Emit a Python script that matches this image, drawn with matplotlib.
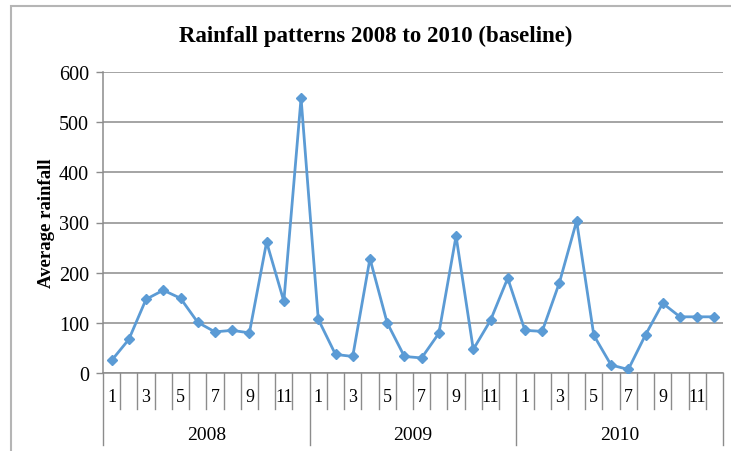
import matplotlib.pyplot as plt
from matplotlib.patches import Rectangle
from matplotlib.transforms import blended_transform_factory

# Monthly average rainfall, Jan 2008 - Dec 2010
years = ['2008', '2009', '2010']
months = list(range(1, 13))
rain_2008 = [25, 67, 147, 165, 149, 101, 82, 85, 80, 261, 143, 548]
rain_2009 = [107, 37, 33, 228, 100, 33, 30, 79, 273, 47, 105, 189]
rain_2010 = [85, 83, 180, 303, 75, 16, 7, 76, 139, 112, 112, 112]
y_ticks = [0, 100, 200, 300, 400, 500, 600]

rainfall = rain_2008 + rain_2009 + rain_2010
n = len(rainfall)
x = list(range(n))

plt.rcParams['font.family'] = 'Liberation Serif'
grid_col = '#8c8c8c'
line_col = '#5b9bd5'

W, H = 731, 452
fig = plt.figure(figsize=(W / 100, H / 100), dpi=100)

# plot area in pixel terms
left, right, top, bottom = 103, 723, 73, 374
ax = fig.add_axes([left / W, (H - bottom) / H, (right - left) / W, (bottom - top) / H])

ax.plot(x, rainfall, color=line_col, linewidth=2.0, marker='D',
        markersize=5, zorder=3)

ax.set_xlim(-0.5, n - 0.5)
ax.set_ylim(0, 600)
ax.set_yticks(y_ticks)
ax.set_yticklabels([str(v) for v in y_ticks], fontsize=14.5)
ax.tick_params(axis='y', length=5, width=1.0, color=grid_col, pad=5)
ax.set_xticks([])
ax.yaxis.grid(True, color=grid_col, linewidth=1.1)
ax.set_axisbelow(True)

for side in ['top', 'right']:
    ax.spines[side].set_visible(False)
for side in ['left', 'bottom']:
    ax.spines[side].set_color(grid_col)
    ax.spines[side].set_linewidth(1.1)

# two-level category axis: month cells and year groups
plot_h = bottom - top
month_drop = -(410 - bottom) / plot_h
year_drop = -(446 - bottom) / plot_h
trans = blended_transform_factory(ax.transData, ax.transAxes)

for i in range(n + 1):
    xb = i - 0.5
    drop = year_drop if i % 12 == 0 else month_drop
    ax.plot([xb, xb], [0, drop], transform=trans, color=grid_col,
            linewidth=1.0, clip_on=False)

for i in x:
    m = months[i % 12]
    if m % 2 == 1:
        ax.text(i, -(398 - bottom) / plot_h, str(m), transform=trans,
                ha='center', va='center', fontsize=13)

for k, yr in enumerate(years):
    ax.text(12 * k + 5.5, -(436 - bottom) / plot_h, yr, transform=trans,
            ha='center', va='center', fontsize=14)

ax.set_ylabel('Average rainfall', fontsize=13.5, fontweight='bold')
ax.yaxis.set_label_coords(-(left - 55) / (right - left), 0.5)

fig.text(376 / W, 1 - 36 / H, 'Rainfall patterns 2008 to 2010 (baseline)',
         ha='center', va='center', fontsize=16.5, fontweight='bold')

# chart border
fig.patches.append(Rectangle((11 / W, -0.1), 1.2, 1.1 - 7 / H,
                             transform=fig.transFigure, fill=False,
                             edgecolor='#b5b5b5', linewidth=1.5))

fig.savefig('out.png', dpi=100)
